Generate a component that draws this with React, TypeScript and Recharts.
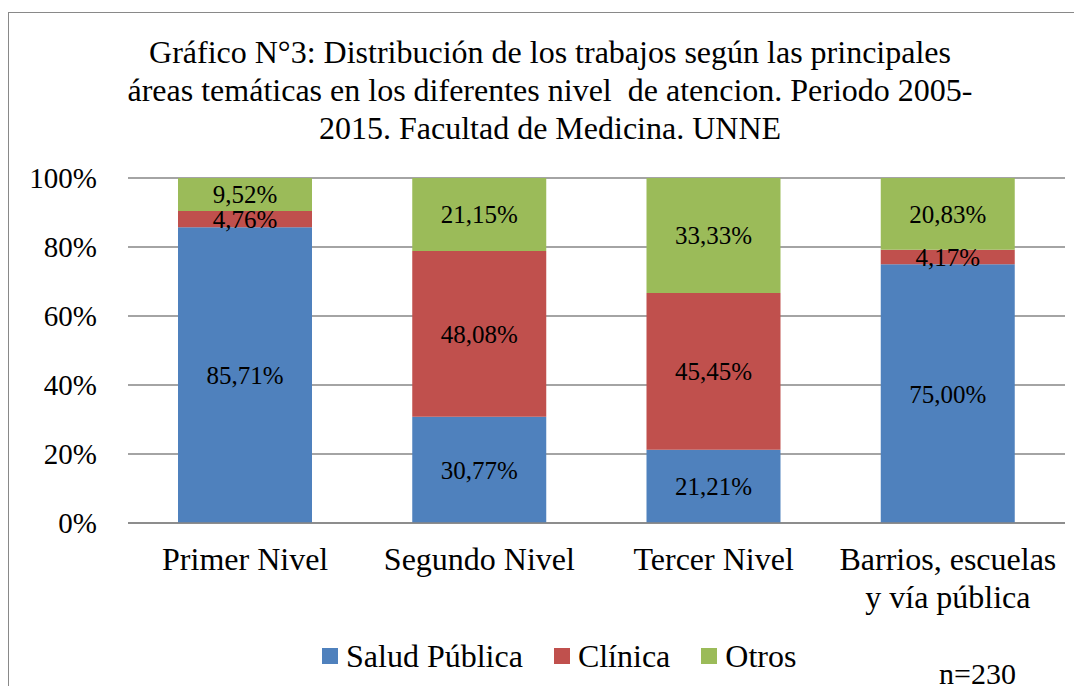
import { Bar, BarChart, CartesianGrid, LabelList, XAxis, YAxis } from "recharts";

const categories = ["Primer Nivel", "Segundo Nivel", "Tercer Nivel", "Barrios, escuelas\ny vía pública"];
const saludPublica = [85.71, 30.77, 21.21, 75.0];
const clinica = [4.76, 48.08, 45.45, 4.17];
const otros = [9.52, 21.15, 33.33, 20.83];
const yTicks = [0, 20, 40, 60, 80, 100];

const series = [
  { key: "salud", name: "Salud Pública", color: "#4F81BD" },
  { key: "clinica", name: "Clínica", color: "#C0504D" },
  { key: "otros", name: "Otros", color: "#9BBB59" },
];

const data = categories.map((name, i) => ({
  name,
  salud: saludPublica[i],
  clinica: clinica[i],
  otros: otros[i],
}));

const FONT = "'Liberation Serif', 'Times New Roman', serif";
const fmt = (v: number) => v.toFixed(2).replace(".", ",") + "%";

function CategoryTick({ x, y, payload }: any) {
  const lines = String(payload.value).split("\n");
  return (
    <text x={x} y={y + 39} textAnchor="middle" fontSize={32} fontFamily={FONT} fill="#000">
      {lines.map((l, i) => (
        <tspan key={i} x={x} dy={i === 0 ? 0 : 38}>
          {l}
        </tspan>
      ))}
    </text>
  );
}

function PercentTick({ x, y, payload }: any) {
  return (
    <text x={x} y={y} dy={10} textAnchor="end" fontSize={29} fontFamily={FONT} fill="#000">
      {payload.value + "%"}
    </text>
  );
}

export default function App() {
  return (
    <div style={{ position: "relative", width: 1066, height: 678, fontFamily: FONT }}>
      <div
        style={{
          position: "absolute",
          left: 0,
          top: 4,
          width: 1068,
          height: 700,
          border: "1px solid #898989",
          boxSizing: "border-box",
        }}
      />
      <div
        style={{
          position: "absolute",
          left: 0,
          width: 1084,
          top: 25,
          textAlign: "center",
          fontSize: 32,
          lineHeight: "38px",
          color: "#000",
        }}
      >
        Gráfico N°3: Distribución de los trabajos según las principales
        <br />
        áreas temáticas en los diferentes nivel&nbsp; de atencion. Periodo 2005-
        <br />
        2015. Facultad de Medicina. UNNE
      </div>
      <div style={{ position: "absolute", left: 931, top: 651, fontSize: 30, lineHeight: "30px", color: "#000" }}>
        n=230
      </div>
      <div
        style={{
          position: "absolute",
          left: 314,
          top: 629,
          display: "flex",
          fontSize: 32,
          lineHeight: "38px",
          color: "#000",
        }}
      >
        {series.map((s) => (
          <div key={s.key} style={{ display: "flex", alignItems: "center", marginRight: 31 }}>
            <span style={{ width: 16, height: 16, background: s.color, marginRight: 8, display: "inline-block" }} />
            <span>{s.name}</span>
          </div>
        ))}
      </div>
      <div style={{ position: "absolute", left: 0, top: 0 }}>
        <BarChart
          width={1066}
          height={678}
          data={data}
          margin={{ top: 170, right: 9, left: 0, bottom: 0 }}
          style={{ fontFamily: FONT }}
        >
          <CartesianGrid vertical={false} stroke="#868686" strokeWidth={1.5} />
          <XAxis
            dataKey="name"
            axisLine={{ stroke: "#868686", strokeWidth: 1.5 }}
            tickLine={false}
            tick={<CategoryTick />}
            height={163}
            interval={0}
          />
          <YAxis
            domain={[0, 100]}
            ticks={yTicks}
            axisLine={false}
            tickLine={false}
            tickSize={0}
            tickMargin={31}
            width={120}
            tick={<PercentTick />}
          />
          {series.map((s) => (
            <Bar key={s.key} dataKey={s.key} name={s.name} stackId="a" fill={s.color} barSize={134} isAnimationActive={false}>
              <LabelList dataKey={s.key} position="center" formatter={fmt} fill="#000" fontSize={25} fontFamily={FONT} />
            </Bar>
          ))}
        </BarChart>
      </div>
    </div>
  );
}
